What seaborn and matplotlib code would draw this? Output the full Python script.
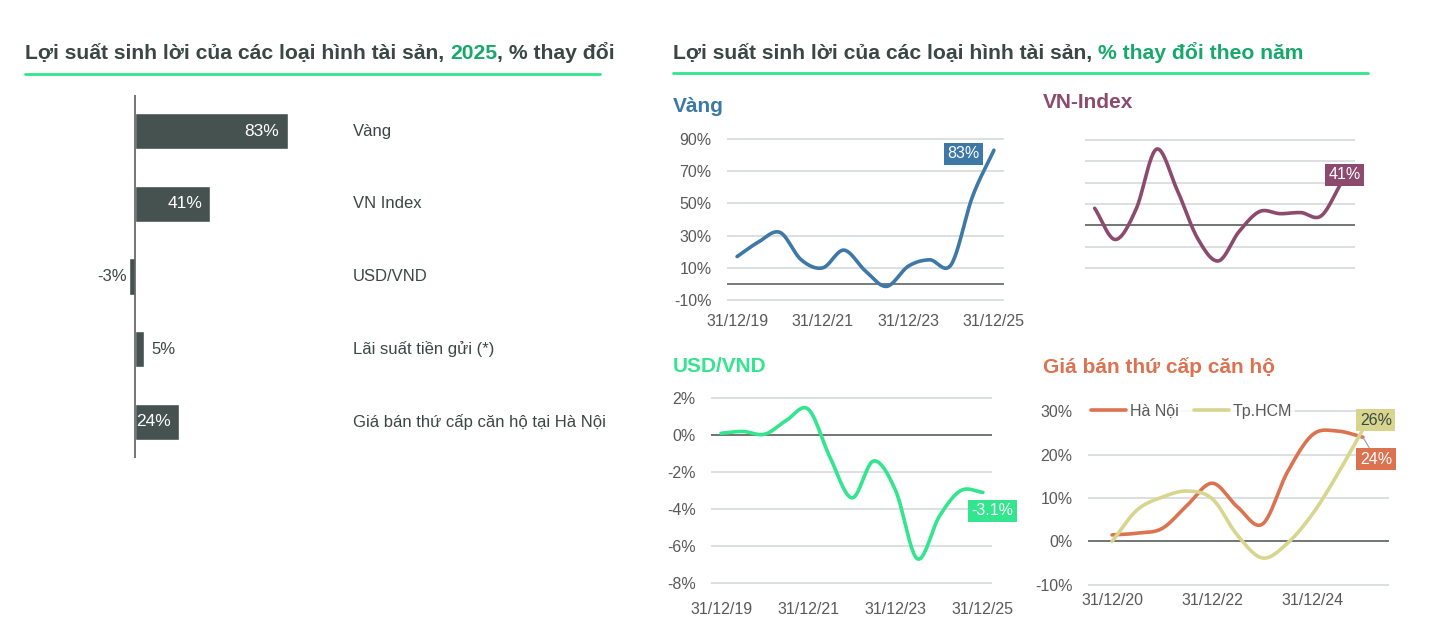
import numpy as np
import pandas as pd
import seaborn as sns
import matplotlib.pyplot as plt
import matplotlib.dates as mdates

# ---- data ----
bar_labels = ["Vàng", "VN Index", "USD/VND", "Lãi suất tiền gửi (*)",
              "Giá bán thứ cấp căn hộ tại Hà Nội"]
bar_values = [83, 41, -3, 5, 24]

half_years = ["31/12/19", "30/06/20", "31/12/20", "30/06/21", "31/12/21",
              "30/06/22", "31/12/22", "30/06/23", "31/12/23", "30/06/24",
              "31/12/24", "30/06/25", "31/12/25"]
gold = [17, 26, 32, 15, 10, 21, 8, -1.5, 11, 15, 12, 54, 83]
vnindex = [16, -13, 15, 71, 33, -12, -33, -6, 13, 11, 12, 9, 41]
usdvnd = [0.1, 0.2, 0.05, 0.8, 1.4, -1.2, -3.4, -1.4, -3.0, -6.7, -4.4, -3.0, -3.1]

house_dates = half_years[2:]
hanoi = [1.5, 1.9, 3.0, 8.3, 13.4, 8.0, 4.0, 16.0, 24.6, 25.4, 24.0]
hcm = [0.0, 7.2, 10.2, 11.6, 9.8, 1.5, -3.8, -0.4, 6.4, 15.5, 25.8]

long_ticks = ["31/12/19", "31/12/21", "31/12/23", "31/12/25"]
house_ticks = ["31/12/20", "31/12/22", "31/12/24"]

# ---- colours ----
DARK = "#3B4744"
GREEN_TXT = "#17A86C"
GREEN_LINE = "#2EE68A"
BAR = "#45524F"
GOLD_C = "#3D78A6"
VN_C = "#8C4B6E"
FX_C = "#33E58E"
HN_C = "#DC7350"
HCM_C = "#D8D68E"
TICK_C = "#595959"
GRID_C = "#D9DDDD"

sns.set_theme(style="white")
plt.rcParams["font.family"] = ["Liberation Sans", "DejaVu Sans"]

W, H = 1430, 632
fig = plt.figure(figsize=(W / 100, H / 100), dpi=100)


def box(x0, y0, x1, y1):
    return fig.add_axes([x0 / W, 1 - y1 / H, (x1 - x0) / W, (y1 - y0) / H])


def to_num(labels):
    return mdates.date2num(pd.to_datetime(labels, format="%d/%m/%y"))


def smooth(xs, ys, n=24):
    # Catmull-Rom curve through the points (spreadsheet "smoothed line")
    x = np.asarray(xs, float)
    y = np.asarray(ys, float)
    px = np.r_[2 * x[0] - x[1], x, 2 * x[-1] - x[-2]]
    py = np.r_[2 * y[0] - y[1], y, 2 * y[-1] - y[-2]]
    ox, oy = [], []
    for i in range(1, len(px) - 2):
        for t in np.linspace(0, 1, n, endpoint=False):
            t2, t3 = t * t, t * t * t
            for p, out in ((px, ox), (py, oy)):
                out.append(0.5 * (2 * p[i] + (-p[i - 1] + p[i + 1]) * t
                                  + (2 * p[i - 1] - 5 * p[i] + 4 * p[i + 1] - p[i + 2]) * t2
                                  + (-p[i - 1] + 3 * p[i] - 3 * p[i + 1] + p[i + 2]) * t3))
    ox.append(x[-1])
    oy.append(y[-1])
    return pd.DataFrame({"x": ox, "y": oy})


def line_panel(ax, dates, values, color, lo, hi, step, ticks, pad_l, pad_r,
               show_y=True, label="_nolegend_"):
    xs = to_num(dates)
    sns.lineplot(data=smooth(xs, values), x="x", y="y", ax=ax, color=color,
                 lw=2.6, sort=False, estimator=None, label=label)
    r = hi - lo
    ax.set_ylim(lo - 0.012 * r, hi + 0.012 * r)
    ax.set_xlim(xs[0] - pad_l, xs[-1] + pad_r)
    yt = np.arange(lo, hi + step / 2, step)
    ax.set_yticks(yt)
    if show_y:
        ax.set_yticklabels([f"{v:g}%" for v in yt])
    else:
        ax.set_yticklabels([])
    if ticks:
        ax.set_xticks(to_num(ticks))
        ax.set_xticklabels(ticks)
    else:
        ax.set_xticks([])
    ax.yaxis.grid(True, color=GRID_C, lw=1.3)
    ax.xaxis.grid(False)
    ax.set_axisbelow(True)
    ax.axhline(0, color="#606463", lw=1.2, zorder=1.5)
    for s in ax.spines.values():
        s.set_visible(False)
    ax.tick_params(length=0, labelsize=11.5, labelcolor=TICK_C)
    ax.set_xlabel("")
    ax.set_ylabel("")
    return xs


def tag(ax, x, y, text, fc, tc, dx, dy, leader=False):
    kw = {}
    if leader:
        kw["arrowprops"] = dict(arrowstyle="-", color="#9A9A9A", lw=0.8,
                                shrinkA=0, shrinkB=0)
    ax.annotate(text, (x, y), xytext=(dx, dy), textcoords="offset points",
                ha="center", va="center", fontsize=11.5, color=tc, zorder=5,
                bbox=dict(boxstyle="square,pad=0.22", fc=fc, ec="none"), **kw)


def rich_text(x_px, y_px, parts, size):
    r = fig.canvas.get_renderer()
    x = x_px / W
    for s, c in parts:
        t = fig.text(x, 1 - y_px / H, s, color=c, fontsize=size,
                     fontweight="bold", ha="left", va="baseline")
        x = t.get_window_extent(renderer=r).x1 / W


# ---- headers ----
rich_text(25, 59, [("Lợi suất sinh lời của các loại hình tài sản, ", DARK),
                   ("2025", GREEN_TXT), (", % thay đổi", DARK)], 15.2)
rich_text(673, 59, [("Lợi suất sinh lời của các loại hình tài sản, ", DARK),
                    ("% thay đổi theo năm", GREEN_TXT)], 15.2)
fig.add_artist(plt.Line2D([25 / W, 600 / W], [1 - 74 / H] * 2, color=GREEN_LINE, lw=2))
fig.add_artist(plt.Line2D([673 / W, 1368 / W], [1 - 73 / H] * 2, color=GREEN_LINE, lw=2))

# ---- left: bar chart ----
ax = box(80, 95, 340, 458)
sns.barplot(x=bar_values, y=bar_labels, orient="h", color=BAR, width=0.5,
            saturation=1, ax=ax)
ax.set_ylim(4.5, -0.5)
ax.set_xlim(-55 / 1.84, 205 / 1.84)
ax.axvline(0, color="#5A605F", lw=1.2)
for s in ax.spines.values():
    s.set_visible(False)
ax.set_xticks([])
ax.set_yticks([])
ax.set_xlabel("")
ax.set_ylabel("")
for i, (lab, v) in enumerate(zip(bar_labels, bar_values)):
    ax.text(1.05, i, lab, transform=ax.get_yaxis_transform(), ha="left",
            va="center", fontsize=12, color=DARK)
    if v >= 10:
        ax.annotate(f"{v}%", (v, i), xytext=(-6, 0), textcoords="offset points",
                    ha="right", va="center", fontsize=12.5, color="white")
    elif v >= 0:
        ax.annotate(f"{v}%", (v, i), xytext=(5, 0), textcoords="offset points",
                    ha="left", va="center", fontsize=12, color=DARK)
    else:
        ax.annotate(f"{v}%", (v, i), xytext=(-2, 0), textcoords="offset points",
                    ha="right", va="center", fontsize=12, color=DARK)

# ---- right panels ----
fig.text(673 / W, 1 - 106 / H, "Vàng", color=GOLD_C, fontsize=15, fontweight="bold", va="center")
fig.text(1043 / W, 1 - 102 / H, "VN-Index", color=VN_C, fontsize=15, fontweight="bold", va="center")
fig.text(673 / W, 1 - 367 / H, "USD/VND", color=FX_C, fontsize=15, fontweight="bold", va="center")
fig.text(1043 / W, 1 - 367 / H, "Giá bán thứ cấp căn hộ", color=HN_C, fontsize=15, fontweight="bold", va="center")

ax1 = box(727, 137, 1004, 302)
xs = line_panel(ax1, half_years, gold, GOLD_C, -10, 90, 20, long_ticks, 86, 86)
ax1.tick_params(axis="y", pad=11)
ax1.tick_params(axis="x", pad=9)
tag(ax1, xs[-1], gold[-1], "83%", GOLD_C, "white", -22, -2.4)

ax2 = box(1085, 138, 1355, 270)
xs = line_panel(ax2, half_years, vnindex, VN_C, -40, 80, 20, None, 86, 115, show_y=False)
tag(ax2, xs[-1], vnindex[-1], "41%", VN_C, "white", 2, 4.7)

ax3 = box(711, 396, 992, 585)
xs = line_panel(ax3, half_years, usdvnd, FX_C, -8, 2, 2, long_ticks, 84, 76)
ax3.tick_params(axis="y", pad=11)
ax3.tick_params(axis="x", pad=12)
tag(ax3, xs[-1], usdvnd[-1], "-3.1%", FX_C, "white", 7, -13.4)

ax4 = box(1088, 409, 1389, 587)
xs = line_panel(ax4, house_dates, hanoi, HN_C, -10, 30, 10, house_ticks, 175, 190, label="Hà Nội")
hs = to_num(house_dates)
sns.lineplot(data=smooth(hs, hcm), x="x", y="y", ax=ax4, color=HCM_C, lw=2.6,
             sort=False, estimator=None, label="Tp.HCM")
ax4.set_xlabel("")
ax4.set_ylabel("")
ax4.tick_params(axis="y", pad=11)
ax4.tick_params(axis="x", pad=4)
leg = ax4.legend(loc="center left", bbox_to_anchor=(0.0, 0.988), ncol=2,
                 frameon=True, fontsize=11.5, handlelength=2.2, handletextpad=0.2,
                 columnspacing=1.0, borderpad=0.2, borderaxespad=0)
leg.get_frame().set_facecolor("white")
leg.get_frame().set_edgecolor("none")
for t in leg.get_texts():
    t.set_color(TICK_C)
tag(ax4, hs[-1], hcm[-1], "26%", HCM_C, DARK, 9.4, 6.7)
tag(ax4, hs[-1], hanoi[-1], "24%", HN_C, "white", 9.4, -15.8, leader=True)

fig.savefig("out.png", dpi=100, facecolor="white")
